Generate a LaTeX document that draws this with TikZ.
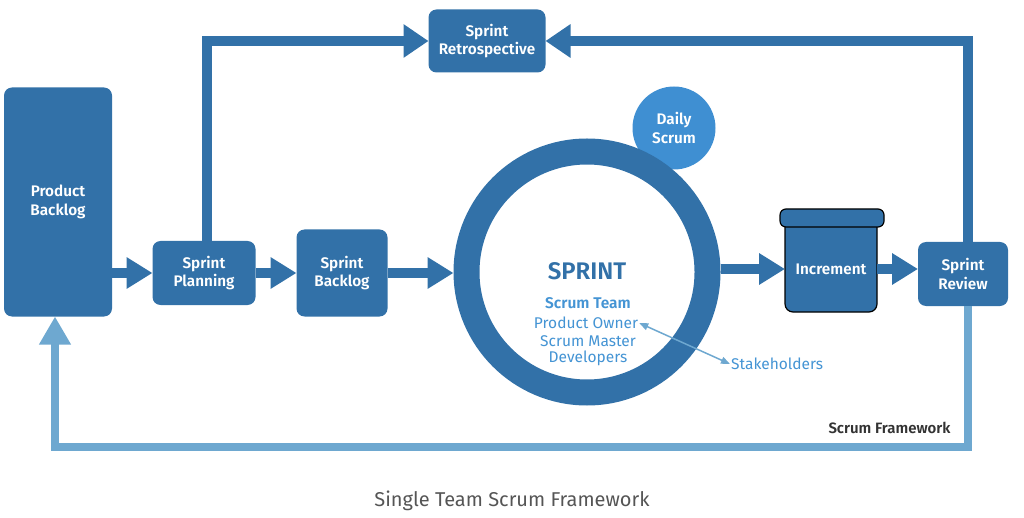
\documentclass[tikz,border=0pt]{standalone}
\usepackage{fontspec}
\setmainfont{Fira Sans}[BoldFont={Fira Sans SemiBold}]
\usepackage{tikz}
\usetikzlibrary{shapes.geometric, arrows.meta, positioning}

\definecolor{scrumblue}{HTML}{3271A8}
\definecolor{dailyblue}{HTML}{3F8FD2}
\definecolor{teamblue}{HTML}{4494D4}
\definecolor{loopblue}{HTML}{6EA8D0}
\definecolor{titlegray}{HTML}{555555}

\tikzstyle{process} = [rectangle, rounded corners=8pt, fill=scrumblue, text=white, align=center, outer sep=0pt, font=\fontsize{15.3}{18.5}\selectfont\bfseries]
\tikzstyle{teamtext} = [text=teamblue, font=\fontsize{15.5}{17.5}\selectfont, inner sep=1pt]
\tikzstyle{arrow} = [line width=10pt, draw=scrumblue, -{Triangle[length=26pt,width=30pt]}]
\tikzstyle{flowline} = [line width=10pt, draw=scrumblue, line join=miter, -{Triangle[length=25pt,width=32pt]}]
\tikzstyle{loopline} = [line width=8pt, draw=loopblue, line join=miter, -{Triangle[length=28pt,width=30pt]}]

\begin{document}
\begin{tikzpicture}[x=1pt, y=-1pt]
\useasboundingbox (0,0) rectangle (1024,518);

% boxes
\node (pbacklog) [process, minimum width=108pt, minimum height=229pt] at (58,202) {Product\\Backlog};
\node (planning) [process, minimum width=103pt, minimum height=64pt] at (204,273) {Sprint\\Planning};
\node (sbacklog) [process, minimum width=91pt, minimum height=87pt, right of=planning, node distance=138pt] {Sprint\\Backlog};
\node (retro) [process, minimum width=117pt, minimum height=63pt] at (487,41) {Sprint\\Retrospective};
\node (review) [process, minimum width=90pt, minimum height=64pt] at (963,274) {Sprint\\Review};

% sprint cycle
\node (daily) [circle, fill=dailyblue, text=white, align=center, minimum size=83pt, font=\fontsize{15.3}{18.5}\selectfont\bfseries] at (674,128) {Daily\\Scrum};
\node (sprint) [circle, draw=scrumblue, line width=26pt, fill=white, minimum size=241pt] at (587,272) {};
\node (sprinttxt) [text=scrumblue, font=\fontsize{24}{28}\selectfont\bfseries] at (587,271) {SPRINT};
\node (team) [teamtext, font=\fontsize{15.5}{17.5}\selectfont\bfseries] at (588,303) {Scrum Team};
\node (po) [teamtext] at (586,323) {Product Owner};
\node (sm) [teamtext] at (588,341) {Scrum Master};
\node (dev) [teamtext] at (588,358) {Developers};
\node (stake) [teamtext, anchor=west] at (730,364) {Stakeholders};

% increment bucket
\draw [fill=scrumblue, draw=black, line width=1.2pt, rounded corners=8pt] (785,226) -- (785,312) -- (877,312) -- (877,226);
\node (lid) [rectangle, rounded corners=6pt, fill=scrumblue, draw=black, line width=1.2pt, minimum width=104pt, minimum height=18pt] at (832,218) {};
\node (increment) [process, fill=none, minimum width=92pt, minimum height=86pt] at (831,269) {Increment};

% flow
\draw [arrow] (pbacklog.east |- planning.west) -- (planning.west);
\draw [arrow] (planning) -- (sbacklog);
\draw [arrow] (sbacklog.east) -- (sbacklog.east -| sprint.west);
\draw [arrow] (sprint.east |- increment) -- (increment.west);
\draw [arrow] (increment.east) -- (increment.east -| review.west);
\draw [flowline] ([xshift=3pt]planning.north) |- (retro.west);
\draw [flowline] ([xshift=5pt]review.north) |- (retro.east);

\coordinate (loopcorner) at (55,447);
\draw [loopline] ([xshift=5pt]review.south) |- (loopcorner) -- ([xshift=-3pt]pbacklog.south);

\draw [draw=loopblue, line width=1.5pt, {Triangle[length=9pt,width=7pt]}-{Triangle[length=9pt,width=7pt]}] (po.east) -- (stake.west);

\node (framework) [anchor=east, text=black!80, font=\fontsize{15}{18}\selectfont\bfseries] at (954,428) {Scrum Framework};
\node (title) [text=titlegray, font=\fontsize{20}{24}\selectfont] at (512,501) {Single Team Scrum Framework};

\end{tikzpicture}
\end{document}
